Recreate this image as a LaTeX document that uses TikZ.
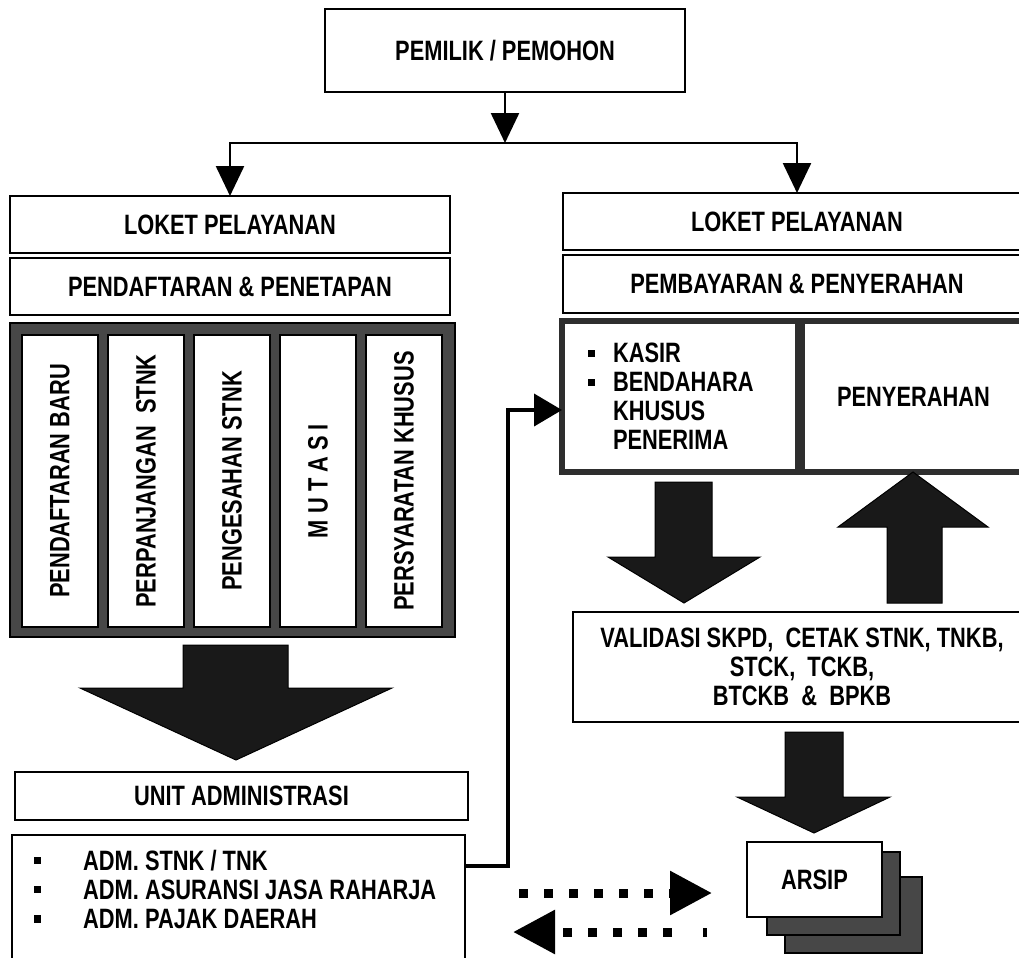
\documentclass[tikz,border=0pt]{standalone}
\usepackage{fontspec}
\setmainfont{Liberation Sans}[FakeStretch=0.78]
\usetikzlibrary{arrows.meta}
\newcommand{\sqbul}{\rule[6bp]{7bp}{7bp}}

\begin{document}
\begin{tikzpicture}[
  x=1bp, y=-1bp,
  font=\bfseries\fontsize{28bp}{29bp}\selectfont,
  >={Triangle[length=30bp, width=28bp]},
  box/.style={rectangle, draw=black, line width=1.5bp, fill=white,
              inner sep=0pt, outer sep=0pt, align=center},
  heavy/.style={box, draw=black!82, line width=6bp},
  col/.style={box, rotate=90, minimum width=292bp, minimum height=76bp, line width=1.2bp},
  shade/.style={box, fill=black!72, draw=black},
  wire/.style={->, line width=2.5bp},
  link/.style={-{Triangle[length=28bp, width=32bp]}, line width=4bp},
  dots/.style={-{Triangle[length=42bp, width=42bp]}, line width=9bp},
  blk/.style={fill=black!90, draw=black, line width=1bp},
]
\useasboundingbox (0,0) rectangle (1019,958);
\clip (0,0) rectangle (1019,958);

% --- pemohon ---
\node[box, minimum width=360bp, minimum height=83bp] (owner) at (505,50.5) {PEMILIK / PEMOHON};
\coordinate (split) at (505,143);

% --- loket kiri ---
\node[box, minimum width=440bp, minimum height=57bp] (lokL) at (230,224.5) {LOKET PELAYANAN};
\node[box, minimum width=440bp, minimum height=57bp] (regL) at (230,286.5) {PENDAFTARAN \& PENETAPAN};
\node[shade, minimum width=445bp, minimum height=314bp] (grid) at (232.5,480) {};
\foreach \x/\t [count=\i] in {60/PENDAFTARAN BARU, 146/PERPANJANGAN\ \ STNK,
    232/PENGESAHAN STNK, 318/M U T A S I, 404/PERSYARATAN KHUSUS}
  \node[col] (col\i) at (\x,481) {\t};

% --- unit administrasi ---
\fill[blk] (183,645) -- (288,645) -- (288,688) -- (392,688) -- (236,760) -- (80,688) -- (183,688) -- cycle;
\node[box, minimum width=453bp, minimum height=48bp] (unit) at (241.5,796) {UNIT ADMINISTRASI};
\node[box, minimum width=453bp, minimum height=140bp] (adm) at (238.5,905) {};
\node[anchor=north west, align=left, inner sep=0pt] (admtxt) at (34,850)
  {\makebox[49bp][l]{\sqbul}ADM. STNK / TNK\\
   \makebox[49bp][l]{\sqbul}ADM. ASURANSI JASA RAHARJA\\
   \makebox[49bp][l]{\sqbul}ADM. PAJAK DAERAH};

% --- loket kanan ---
\node[box, minimum width=468bp, minimum height=57bp] (lokR) at (797,221.5) {LOKET PELAYANAN};
\node[box, minimum width=468bp, minimum height=58bp] (payR) at (797,284) {PEMBAYARAN \& PENYERAHAN};
\node[heavy, minimum width=236bp, minimum height=151bp, text width=184bp, align=left] (kasir) at (680,396.5)
  {\makebox[25bp][l]{\sqbul}KASIR\\
   \makebox[25bp][l]{\sqbul}BENDAHARA\\
   \hspace*{25bp}KHUSUS\\
   \hspace*{25bp}PENERIMA};
\node[heavy, minimum width=223bp, minimum height=151bp] (serah) at (913.5,396.5) {PENYERAHAN};

\fill[blk] (655,482) -- (712,482) -- (712,557) -- (760,557) -- (684,603) -- (608,557) -- (655,557) -- cycle;
\fill[blk] (887,603) -- (942,603) -- (942,527) -- (988,527) -- (913,472) -- (838,527) -- (887,527) -- cycle;

\node[box, minimum width=458bp, minimum height=110bp] (valid) at (802,667)
  {VALIDASI SKPD,\ \ CETAK STNK, TNKB,\\ STCK,\ \ TCKB,\\ BTCKB\ \ \&\ \ BPKB};

% --- arsip ---
\fill[blk] (785,732) -- (843,732) -- (843,797) -- (890,797) -- (814,833) -- (737,797) -- (785,797) -- cycle;
\node[shade, minimum width=137bp, minimum height=76bp] (arsipC) at (853.5,915) {};
\node[shade, minimum width=133bp, minimum height=83bp] (arsipB) at (833.5,893.5) {};
\node[box, minimum width=135bp, minimum height=75bp] (arsip) at (814.5,879.5) {ARSIP};

% --- connectors ---
\draw[wire] (owner.south) -- (split);
\draw[line width=2.5bp, line cap=rect] (split -| lokL.north) -- (split -| lokR.north);
\draw[wire] (split -| lokL.north) -- (lokL.north);
\draw[wire] (split -| lokR.north) -- (lokR.north);
\draw[link] ([yshift=-31bp]adm.north east) -- ++(43,0) |- ([yshift=-13.5bp]kasir.west);

\coordinate (dotA) at (519,893);
\coordinate (dotB) at (712,893);
\coordinate (dotC) at (707,932);
\coordinate (dotD) at (513,932);
\draw[dots, dash pattern=on 9bp off 16bp] (dotA) -- (dotB);
\draw[dots, dash pattern=on 4bp off 31bp on 9bp off 16bp on 9bp off 16bp on 9bp off 16bp
      on 9bp off 16bp on 9bp off 16bp] (dotC) -- (dotD);
\end{tikzpicture}
\end{document}
